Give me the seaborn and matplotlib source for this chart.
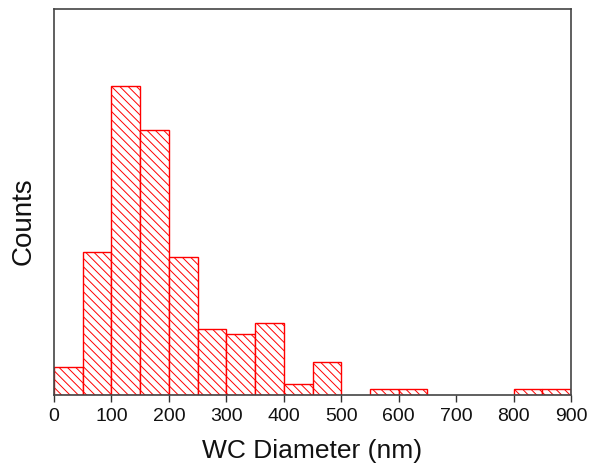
import matplotlib
matplotlib.use("Agg")
import matplotlib.pyplot as plt
import seaborn as sns
import numpy as np
import pandas as pd

# Histogram data (bin edges in nm, counts per bin)
bin_edges = [0, 50, 100, 150, 200, 250, 300, 350, 400, 450, 500,
             550, 600, 650, 700, 750, 800, 850, 900]
counts = [5, 26, 56, 48, 25, 12, 11, 13, 2, 6,
          0, 1, 1, 0, 0, 0, 1, 1]
x_ticks = [0, 100, 200, 300, 400, 500, 600, 700, 800, 900]

sns.set_theme(style="white")
plt.rcParams['font.family'] = ['Liberation Sans', 'DejaVu Sans']
plt.rcParams['hatch.linewidth'] = 0.7

centers = [(a + b) / 2 for a, b in zip(bin_edges[:-1], bin_edges[1:])]
df = pd.DataFrame({"d": centers, "n": counts})

fig = plt.figure(figsize=(5.89, 4.65), dpi=100)
ax = fig.add_axes([54/589, 70/465, (571-54)/589, (395-9)/465])

sns.histplot(data=df, x="d", weights="n", bins=bin_edges, ax=ax,
             color="red", fill=True)

for p in ax.patches:
    p.set_facecolor("white")
    p.set_edgecolor("#ff0000")
    p.set_hatch("\\\\\\\\")
    p.set_linewidth(1.0)
    if p.get_height() == 0:
        p.set_visible(False)

ax.set_xlim(0, 900)
ax.set_ylim(0, 70)
ax.set_xticks(x_ticks)
ax.set_xticklabels([str(t) for t in x_ticks], fontsize=14, color="#111111")
ax.set_yticks([])
ax.tick_params(axis="x", direction="out", length=5, width=1, color="#333333",
               pad=4, bottom=True)
for s in ax.spines.values():
    s.set_color("#444444")
    s.set_linewidth(1.2)
ax.set_xlabel("WC Diameter (nm)", fontsize=19, color="#111111")
ax.set_ylabel("Counts", fontsize=20, color="#111111")
ax.xaxis.set_label_coords(0.5, (395 - 451) / 386)
ax.xaxis.label.set_verticalalignment("center")
ax.yaxis.set_label_coords((24 - 54) / 517, (395 - 221) / 386)
ax.yaxis.label.set_verticalalignment("center")

fig.savefig("out.png", dpi=100)
